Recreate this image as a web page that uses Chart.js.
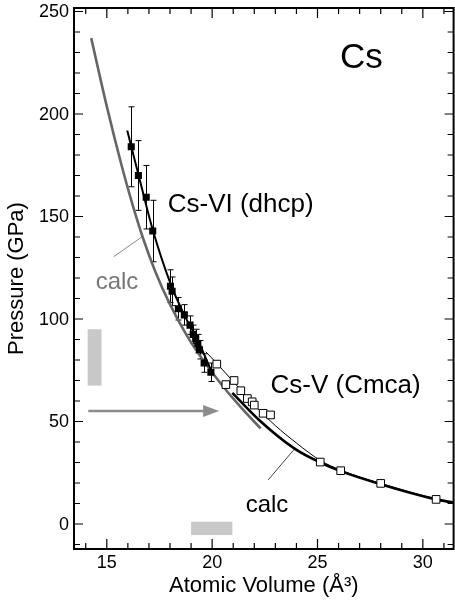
<!DOCTYPE html>
<html>
<head>
<meta charset="utf-8">
<script src="https://cdn.jsdelivr.net/npm/chart.js@4"></script>
<style>
html,body{margin:0;padding:0;background:#fff;overflow:hidden;}
#wrap{position:relative;width:460px;height:603px;}
</style>
</head>
<body>
<div id="wrap"><canvas id="c"></canvas></div>
<script>
// ---- tick values ----
const xMajorTicks = [15, 20, 25, 30];
const xMinorTicks = [14, 16, 17, 18, 19, 21, 22, 23, 24, 26, 27, 28, 29, 31];
const yMajorTicks = [0, 50, 100, 150, 200, 250];
const yMinorTicks = [-10, 10, 20, 30, 40, 60, 70, 80, 90, 110, 120, 130, 140, 160, 170, 180, 190, 210, 220, 230, 240];

// ---- Cs-VI (dhcp) measured, filled squares ----
const csVI_V   = [16.16, 16.50, 16.87, 17.18, 18.02, 18.10, 18.40, 18.68, 18.95, 19.10, 19.22, 19.32, 19.40, 19.62, 19.94];
const csVI_P   = [184, 170, 159.4, 142.9, 116, 113.5, 105, 102, 97, 92.5, 90.5, 88, 85, 78.5, 74];
const csVI_err = [19.5, 17, 15.5, 15, 8, 7, 5.5, 5, 4.5, 4.5, 4.5, 4.5, 4.5, 4.5, 4.5];

// ---- Cs-V (Cmca) measured, open squares ----
const csV_V = [20.22, 20.65, 21.04, 21.36, 21.67, 21.90, 22.00, 22.42, 22.77, 25.13, 26.10, 28.00, 30.63];
const csV_P = [78, 68, 70, 65, 61.2, 59.6, 58, 54, 53.2, 30.2, 26, 19.8, 12.0];

// ---- fit through Cs-VI data (thick black) ----
const fitVI_V = [15.97, 16.5, 17.18, 18.05, 18.7, 19.3, 19.95];
const fitVI_P = [191.9, 170.5, 143.5, 116.5, 101.5, 90, 75];

// ---- fit through Cs-V data (thin black) ----
const fitV_V = [19.7, 20.25, 21.0, 22.0, 23.0, 24.0, 25.13, 26.1, 28.0, 30.63, 31.46];
const fitV_P = [84, 78, 69.5, 58, 48, 39.5, 31, 26.3, 19.8, 12.2, 10.4];

// ---- calc Cs-VI (grey) ----
const calcVI_V = [14.26, 15.0, 15.7, 16.2, 16.7, 17.3, 18.0, 18.8, 19.6, 20.5, 21.4, 22.3];
const calcVI_P = [237, 203.7, 175, 156.5, 140, 123.2, 107.1, 91.9, 79.5, 67.3, 56.5, 46.6];

// ---- calc Cs-V (thick black) ----
const calcV_V = [20.96, 22.2, 23.95, 25.13, 26.1, 28.0, 30.63, 31.46];
const calcV_P = [64, 51, 36.5, 30, 25.8, 19.4, 12.0, 10.4];

// ---- label pointer lines ----
const greyPointerV = [15.33, 16.66];
const greyPointerP = [130.4, 140];
const blackPointerV = [22.66, 23.9];
const blackPointerP = [21.5, 36.5];

// ---- arrow (transition) and shaded ranges ----
const arrowV = [14.12, 20.33];
const arrowP = [55.1, 55.1];
const shadeVertV = [14.09, 14.75];
const shadeVertP = [67.5, 95];
const shadeHorizV = [19.0, 20.96];
const shadeHorizP = [-5.4, 1.1];

// ---- text labels ----
const labelText = ['Cs', 'Cs-VI (dhcp)', 'Cs-V (Cmca)', 'calc', 'calc'];
const labelV    = [27.08, 17.89, 22.77, 14.47, 21.59];
const labelP    = [222.4, 152.2, 63.9, 114.6, 5.85];
const labelStyle = [
  {size: 35, color: '#000', align: 'center'},
  {size: 26, color: '#000', align: 'left'},
  {size: 26, color: '#000', align: 'left'},
  {size: 24, color: '#777', align: 'left'},
  {size: 24, color: '#000', align: 'left'}
];

const FONT = '"Liberation Sans", Arial, Helvetica, sans-serif';
const pts = (xs, ys) => xs.map((x, i) => ({x: x, y: ys[i]}));

const decor = {
  id: 'decor',
  beforeDatasetsDraw(chart) {
    const {ctx, scales: {x, y}} = chart;
    ctx.save();
    ctx.fillStyle = '#c8c8c8';
    [[shadeVertV, shadeVertP], [shadeHorizV, shadeHorizP]].forEach(([vs, ps]) => {
      const x0 = x.getPixelForValue(vs[0]), x1 = x.getPixelForValue(vs[1]);
      const y0 = y.getPixelForValue(ps[1]), y1 = y.getPixelForValue(ps[0]);
      ctx.fillRect(x0, y0, x1 - x0, y1 - y0);
    });
    // arrow
    const ax0 = x.getPixelForValue(arrowV[0]), ax1 = x.getPixelForValue(arrowV[1]);
    const ay = y.getPixelForValue(arrowP[0]);
    ctx.strokeStyle = '#8c8c8c';
    ctx.fillStyle = '#8c8c8c';
    ctx.lineWidth = 2.5;
    ctx.beginPath(); ctx.moveTo(ax0, ay); ctx.lineTo(ax1 - 14, ay); ctx.stroke();
    ctx.beginPath(); ctx.moveTo(ax1, ay); ctx.lineTo(ax1 - 16, ay - 6); ctx.lineTo(ax1 - 16, ay + 6); ctx.closePath(); ctx.fill();
    // error bars
    ctx.strokeStyle = '#000';
    ctx.lineWidth = 1;
    csVI_V.forEach((v, i) => {
      const px = Math.round(x.getPixelForValue(v)) + 0.5;
      const yt = y.getPixelForValue(csVI_P[i] + csVI_err[i]);
      const yb = y.getPixelForValue(csVI_P[i] - csVI_err[i]);
      ctx.beginPath();
      ctx.moveTo(px, yt); ctx.lineTo(px, yb);
      ctx.moveTo(px - 3, yt); ctx.lineTo(px + 3, yt);
      ctx.moveTo(px - 3, yb); ctx.lineTo(px + 3, yb);
      ctx.stroke();
    });
    ctx.restore();
  },
  afterDraw(chart) {
    const {ctx, chartArea: a, scales: {x, y}} = chart;
    ctx.save();
    // labels
    ctx.textBaseline = 'alphabetic';
    labelText.forEach((t, i) => {
      const st = labelStyle[i];
      ctx.font = st.size + 'px ' + FONT;
      ctx.fillStyle = st.color;
      ctx.textAlign = st.align;
      ctx.fillText(t, x.getPixelForValue(labelV[i]), y.getPixelForValue(labelP[i]));
    });
    // tick labels
    ctx.fillStyle = '#000';
    ctx.font = '18px ' + FONT;
    ctx.textAlign = 'right';
    ctx.textBaseline = 'middle';
    yMajorTicks.forEach(v => ctx.fillText(String(v), a.left - 5, y.getPixelForValue(v) + 1));
    ctx.textAlign = 'center';
    xMajorTicks.forEach(v => ctx.fillText(String(v), x.getPixelForValue(v), a.bottom + 14));
    // frame
    ctx.strokeStyle = '#000';
    ctx.lineWidth = 2;
    ctx.strokeRect(a.left, a.top, a.right - a.left, a.bottom - a.top);
    // inward ticks
    ctx.lineWidth = 1.2;
    ctx.beginPath();
    const xt = (vals, len) => vals.forEach(v => {
      const px = x.getPixelForValue(v);
      ctx.moveTo(px, a.bottom); ctx.lineTo(px, a.bottom - len);
      ctx.moveTo(px, a.top); ctx.lineTo(px, a.top + len);
    });
    const yt = (vals, len) => vals.forEach(v => {
      const py = y.getPixelForValue(v);
      ctx.moveTo(a.left, py); ctx.lineTo(a.left + len, py);
      ctx.moveTo(a.right, py); ctx.lineTo(a.right - len, py);
    });
    xt(xMajorTicks, 10); xt(xMinorTicks, 6);
    yt(yMajorTicks, 9); yt(yMinorTicks, 6);
    ctx.stroke();
    ctx.restore();
  }
};

const lineDs = (data, color, width, order) => ({
  type: 'line', data: data, borderColor: color, borderWidth: width, pointRadius: 0,
  showLine: true, fill: false, cubicInterpolationMode: 'monotone', order: order
});

new Chart(document.getElementById('c'), {
  type: 'scatter',
  data: {
    datasets: [
      {data: pts(csVI_V, csVI_P), pointStyle: 'rect', pointRadius: 5, backgroundColor: '#000', borderColor: '#000', borderWidth: 0, showLine: false, order: 0},
      {data: pts(csV_V, csV_P), pointStyle: 'rect', pointRadius: 5.4, backgroundColor: '#fff', borderColor: '#000', borderWidth: 1, showLine: false, order: 1},
      lineDs(pts(fitVI_V, fitVI_P), '#000', 2, 2),
      lineDs(pts(fitV_V, fitV_P), '#000', 1, 3),
      lineDs(pts(calcV_V, calcV_P), '#000', 2.6, 4),
      lineDs(pts(calcVI_V, calcVI_P), '#666', 2.6, 5),
      lineDs(pts(greyPointerV, greyPointerP), '#888', 1, 6),
      lineDs(pts(blackPointerV, blackPointerP), '#444', 1, 7)
    ]
  },
  options: {
    responsive: true,
    maintainAspectRatio: false,
    animation: false,
    events: [],
    layout: {padding: {left: 0, right: 4, top: 8, bottom: 0}},
    plugins: {legend: {display: false}, tooltip: {enabled: false}},
    scales: {
      x: {
        type: 'linear', min: 13.443, max: 31.46,
        grid: {display: false, drawTicks: false},
        border: {display: false},
        afterBuildTicks: s => { s.ticks = xMajorTicks.map(v => ({value: v})); },
        afterFit: s => { s.height = 54; },
        ticks: {display: false},
        title: {display: true, text: 'Atomic Volume (Å³)', color: '#000', font: {size: 22, family: FONT}, padding: {top: 0, bottom: 4}}
      },
      y: {
        type: 'linear', min: -12.2, max: 251.7,
        grid: {display: false, drawTicks: false},
        border: {display: false},
        afterBuildTicks: s => { s.ticks = yMajorTicks.map(v => ({value: v})); },
        afterFit: s => { s.width = 74; },
        ticks: {display: false},
        title: {display: true, text: 'Pressure (GPa)', color: '#000', font: {size: 22, family: FONT}, padding: {top: 4, bottom: 0}}
      }
    }
  },
  plugins: [decor]
});
</script>
</body>
</html>
